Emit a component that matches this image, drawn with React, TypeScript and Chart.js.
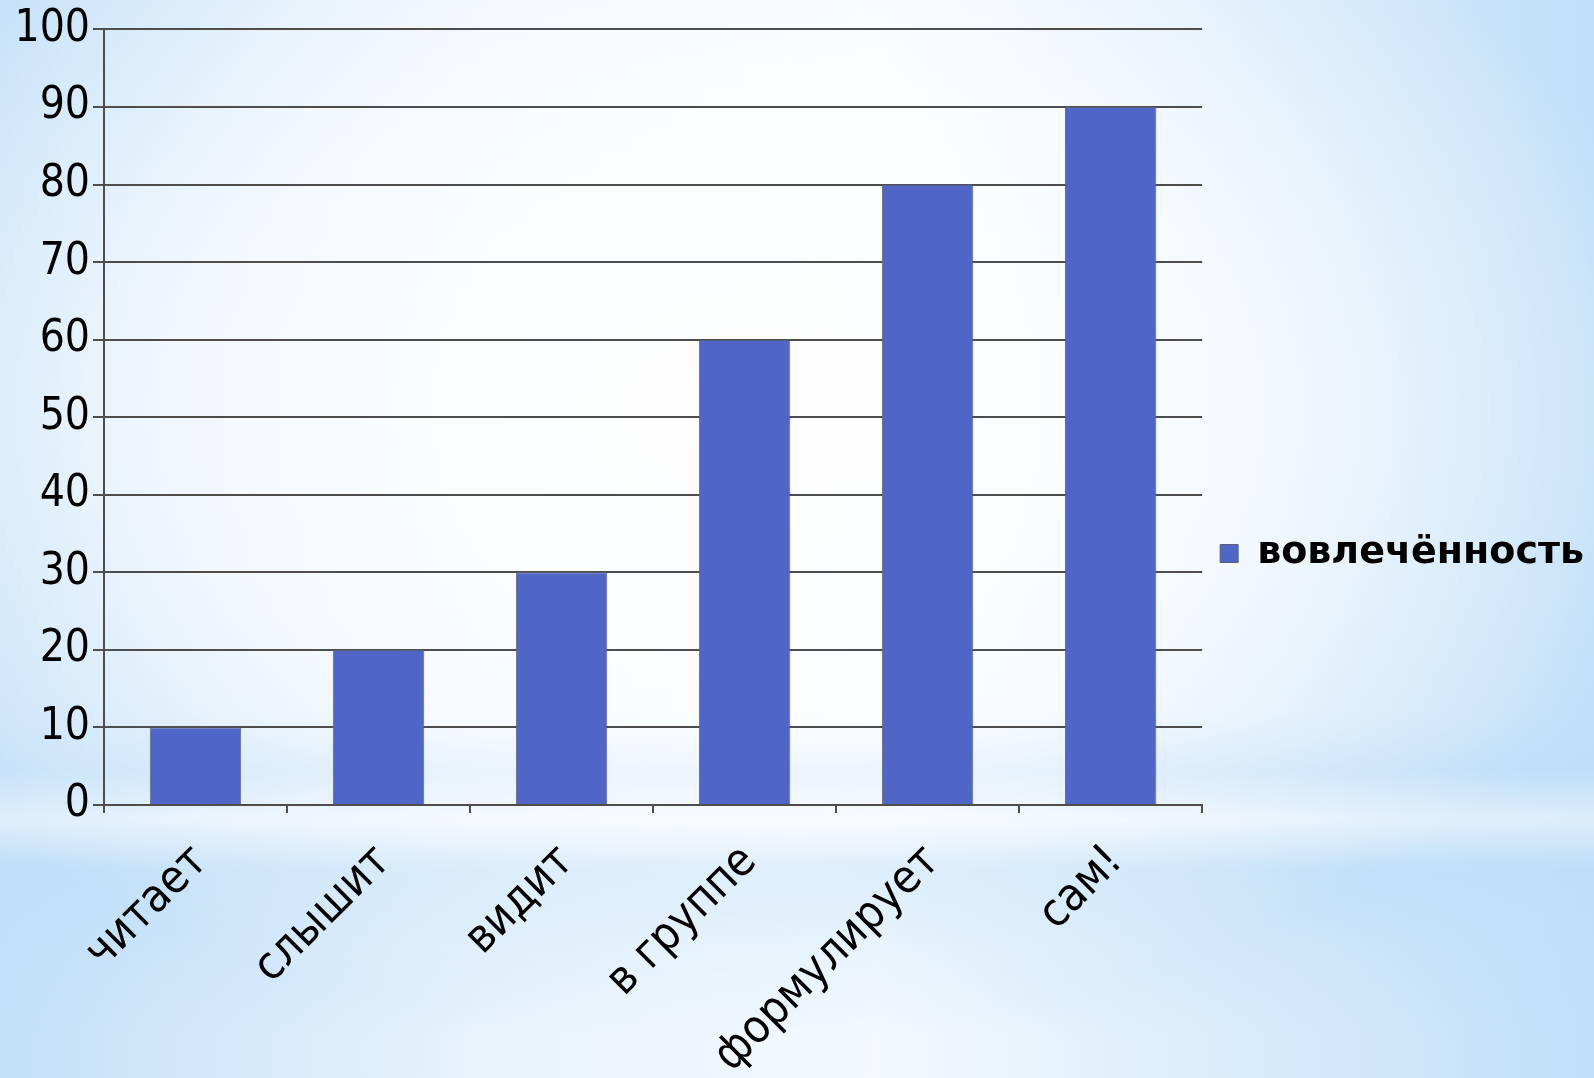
import { useEffect, useRef } from 'react';
import { Chart, registerables } from 'chart.js';

Chart.register(...registerables);

const categories = ['читает', 'слышит', 'видит', 'в группе', 'формулирует', 'сам!'];
const engagement = [10, 20, 30, 60, 80, 90];
const seriesName = 'вовлечённость';
const yMin = 0;
const yMax = 100;
const yStep = 10;

const tickFont = "'DejaVu Sans Condensed', 'Liberation Sans', sans-serif";

export default function App() {
  const ref = useRef<HTMLCanvasElement>(null);
  useEffect(() => {
    document.body.style.margin = '0';
    const chart = new Chart(ref.current as HTMLCanvasElement, {
      type: 'bar',
      data: {
        labels: categories,
        datasets: [
          {
            label: seriesName,
            data: engagement,
            backgroundColor: '#4f66c6',
            borderColor: '#5a6178',
            borderWidth: 1,
            barPercentage: 0.5,
            categoryPercentage: 1,
          },
        ],
      },
      options: {
        animation: false,
        responsive: false,
        layout: { padding: { top: 29, left: 0, right: 0, bottom: 0 } },
        plugins: {
          legend: {
            position: 'right',
            maxWidth: 394,
            labels: {
              boxWidth: 18,
              boxHeight: 18,
              padding: 18,
              color: '#000',
              font: { family: 'DejaVu Sans', size: 38, weight: 'bold' },
            },
          },
          tooltip: { enabled: false },
        },
        scales: {
          x: {
            grid: {
              display: true,
              drawOnChartArea: false,
              drawTicks: true,
              tickLength: 8,
              color: '#4d4d4d',
              lineWidth: 2,
              offset: true,
            },
            border: { color: '#4d4d4d', width: 2 },
            ticks: {
              maxRotation: 45,
              minRotation: 45,
              color: '#000',
              padding: 22,
              labelOffset: 5,
              font: { family: tickFont, size: 46 },
            },
            afterFit: (s: any) => {
              s.height = 273;
            },
          },
          y: {
            min: yMin,
            max: yMax,
            ticks: {
              stepSize: yStep,
              color: '#000',
              padding: 3,
              font: { family: tickFont, size: 44 },
            },
            grid: { color: '#4d4d4d', lineWidth: 2, tickLength: 11 },
            border: { color: '#4d4d4d', width: 2 },
            afterFit: (s: any) => {
              s.width = 104;
            },
          },
        },
      },
    });
    return () => chart.destroy();
  }, []);

  const bg = [
    'radial-gradient(ellipse 62% 58% at 45% 38%, rgba(255,255,255,0.97) 0%, rgba(255,255,255,0.7) 55%, rgba(255,255,255,0) 100%)',
    'linear-gradient(180deg, rgba(190,222,248,0) 0%, rgba(190,222,248,0) 66%, rgba(190,222,248,0.75) 71.5%, rgba(238,246,253,0.6) 76%, rgba(190,222,248,0.8) 80.5%, rgba(190,222,248,0.3) 88%, rgba(190,222,248,0) 96%)',
    'linear-gradient(90deg, #c3e0f8 0%, #e8f3fc 30%, #f3f9fe 55%, #c0dff8 100%)',
  ].join(',');

  return (
    <div style={{ width: 1594, height: 1078, background: bg, overflow: 'hidden' }}>
      <canvas ref={ref} width={1594} height={1078} style={{ display: 'block' }} />
    </div>
  );
}
